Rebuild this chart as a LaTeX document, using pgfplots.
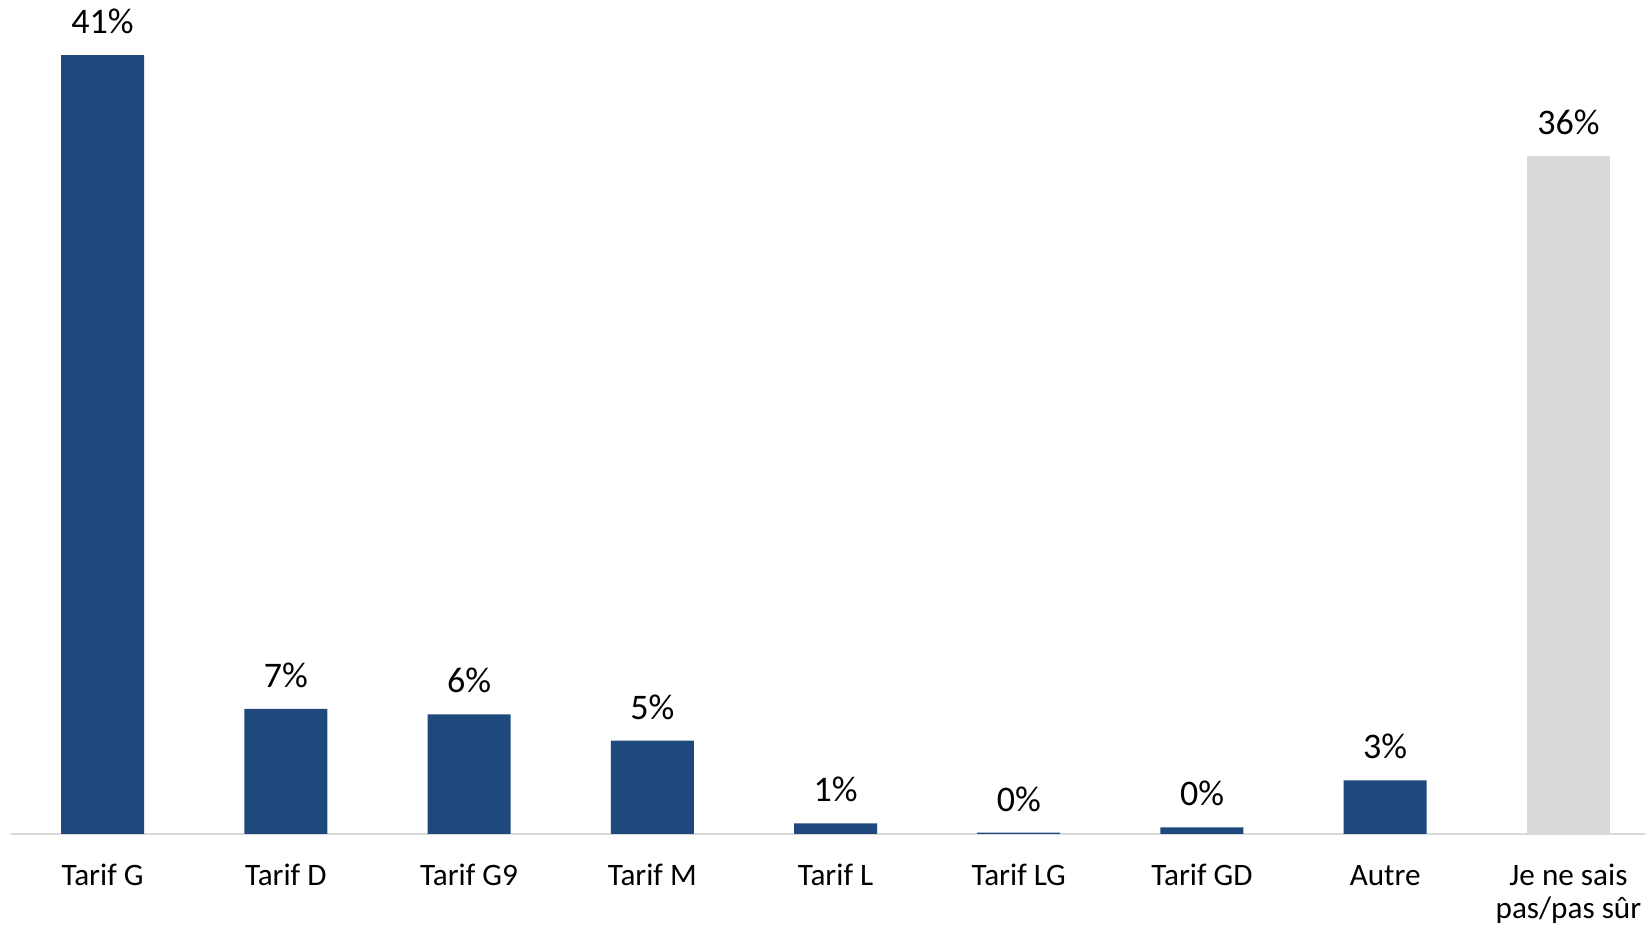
\documentclass[border=0pt]{standalone}
\usepackage{fontspec}
\setmainfont{Carlito}
\usepackage{pgfplots}
\pgfplotsset{compat=1.18}
\usetikzlibrary{calc}
\definecolor{barblue}{HTML}{1F497D}
\definecolor{bargray}{HTML}{D9D9D9}
\begin{document}
\begin{tikzpicture}
\begin{axis}[
 scale only axis,
 width=824.6pt, height=417pt,
 xmin=-0.5, xmax=8.5, ymin=0, ymax=43.9,
 axis x line=bottom, axis y line=none,
 x axis line style={-, draw=bargray, line width=1pt},
 xtick={0,...,8},
 xticklabels={Tarif G, Tarif D, Tarif G9, Tarif M, Tarif L, Tarif LG, Tarif GD, Autre, {\begin{tabular}[t]{@{}c@{}}Je ne sais\\pas/pas sûr\end{tabular}}},
 major tick length=0pt,
 xticklabel style={font=\fontsize{15.6}{16.5}\selectfont, anchor=base, yshift=-26pt, text=black},
 ybar, bar width=41.5pt, bar shift=0pt,
 nodes near coords={\pgfmathprintnumber[fixed,precision=0]{\pgfplotspointmeta}\%},
 nodes near coords style={font=\fontsize{18}{20}\selectfont, anchor=base, yshift=10.75pt, text=black},
 /pgf/number format/assume math mode=true,
 clip=false,
]
\addplot[fill=barblue, draw=none] coordinates {(0,41) (1,6.58) (2,6.29) (3,4.92) (4,0.56) (5,0.07) (6,0.35) (7,2.82)};
\addplot[fill=bargray, draw=none] coordinates {(8,35.7)};
\coordinate (bl) at (rel axis cs:0,0);
\end{axis}
\pgfresetboundingbox
\path[use as bounding box] ($(bl)+(-5.45pt,-48pt)$) rectangle ($(bl)+(817.05pt,417pt)$);
\end{tikzpicture}
\end{document}
